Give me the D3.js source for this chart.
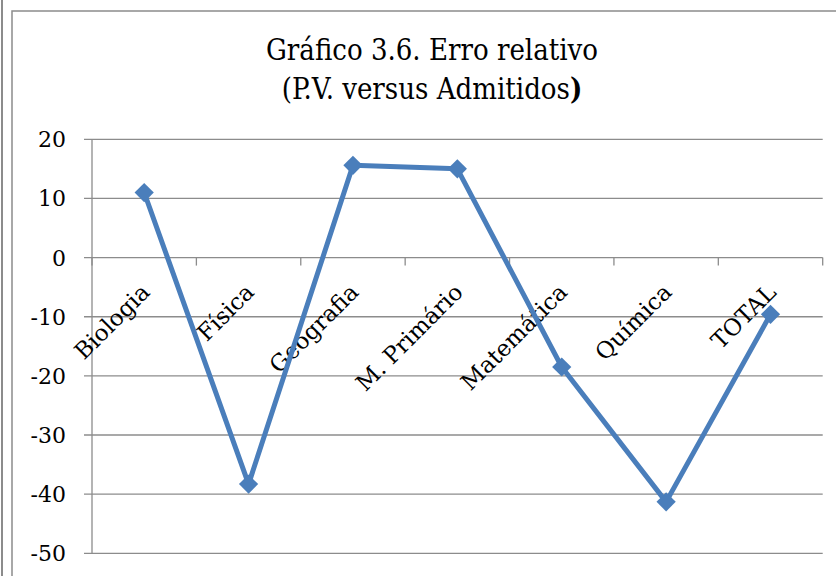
<!DOCTYPE html>
<html>
<head>
  <meta charset="UTF-8">
  <style>
    body { margin: 0; background: #fff; }
    svg { display: block; }
    .chart-text { font-family: "DejaVu Serif", serif; fill: #000; }
  </style>
</head>
<body>
<svg></svg>
<script src="https://d3js.org/d3.v7.min.js"></script>
<script>
const width = 836, height = 576;

// data
const categories = ["Biologia", "Física", "Geografia", "M. Primário", "Matemática", "Química", "TOTAL"];
const values = [11.0, -38.3, 15.6, 15.0, -18.5, -41.3, -9.6];
const yTicks = [20, 10, 0, -10, -20, -30, -40, -50];
const titleLines = ["Gráfico 3.6. Erro relativo", "(P.V. versus Admitidos"];

const svg = d3.select("svg")
    .attr("width", width)
    .attr("height", height);

// frames
svg.append("line")
    .attr("x1", 2).attr("x2", 2).attr("y1", 0).attr("y2", height)
    .attr("stroke", "#8c8c8c").attr("stroke-width", 2);
svg.append("rect")
    .attr("x", 12).attr("y", 11).attr("width", 900).attr("height", 700)
    .attr("fill", "none").attr("stroke", "#8c8c8c").attr("stroke-width", 1.5);

// title
const title = svg.append("text")
    .attr("class", "chart-text")
    .attr("text-anchor", "middle")
    .style("font-size", "29px")
    .style("font-stretch", "condensed");
title.append("tspan").attr("x", 432).attr("y", 60).text(titleLines[0]);
const t2 = title.append("tspan").attr("x", 432).attr("y", 99);
t2.append("tspan").text(titleLines[1]);
t2.append("tspan").style("font-weight", "bold").text(")");

const margin = {left: 92, right: 822.7, top: 139.3, bottom: 553.3};

const x = d3.scaleBand()
    .domain(categories)
    .range([margin.left, margin.right]);

const y = d3.scaleLinear()
    .domain([-50, 20])
    .range([margin.bottom, margin.top]);

// gridlines
svg.append("g")
    .selectAll("line")
    .data(yTicks)
    .join("line")
    .attr("x1", margin.left - 8)
    .attr("x2", margin.right)
    .attr("y1", d => y(d))
    .attr("y2", d => y(d))
    .attr("stroke", "#8c8c8c")
    .attr("stroke-width", 1.3);

// y axis line
svg.append("line")
    .attr("x1", margin.left).attr("x2", margin.left)
    .attr("y1", y(20)).attr("y2", y(-50))
    .attr("stroke", "#8c8c8c").attr("stroke-width", 1.3);

// y labels
svg.append("g")
    .selectAll("text")
    .data(yTicks)
    .join("text")
    .attr("class", "chart-text")
    .attr("x", margin.left - 26)
    .attr("y", d => y(d))
    .attr("dy", "0.36em")
    .attr("text-anchor", "end")
    .style("font-size", "22px")
    .text(d => d);

// category ticks on zero line
const bounds = categories.map(c => x(c) + x.bandwidth()).concat([x(categories[0])]);
svg.append("g")
    .selectAll("line")
    .data(bounds)
    .join("line")
    .attr("x1", d => d).attr("x2", d => d)
    .attr("y1", y(0)).attr("y2", y(0) + 8)
    .attr("stroke", "#8c8c8c").attr("stroke-width", 1.3);

// category labels, rotated
svg.append("g")
    .selectAll("text")
    .data(categories)
    .join("text")
    .attr("class", "chart-text")
    .attr("text-anchor", "end")
    .style("font-size", "23px")
    .attr("transform", d => `translate(${x(d) + x.bandwidth() / 2 + 7},${y(0) + 36}) rotate(-45)`)
    .text(d => d);

// line
const line = d3.line()
    .x((d, i) => x(categories[i]) + x.bandwidth() / 2)
    .y(d => y(d));

svg.append("path")
    .datum(values)
    .attr("d", line)
    .attr("fill", "none")
    .attr("stroke", "#4a7ebb")
    .attr("stroke-width", 5)
    .attr("stroke-linejoin", "round");

// diamond markers
svg.append("g")
    .selectAll("path")
    .data(values)
    .join("path")
    .attr("d", d3.symbol().type(d3.symbolSquare).size(185))
    .attr("transform", (d, i) => `translate(${x(categories[i]) + x.bandwidth() / 2},${y(d)}) rotate(45)`)
    .attr("fill", "#4a7ebb");
</script>
</body>
</html>
